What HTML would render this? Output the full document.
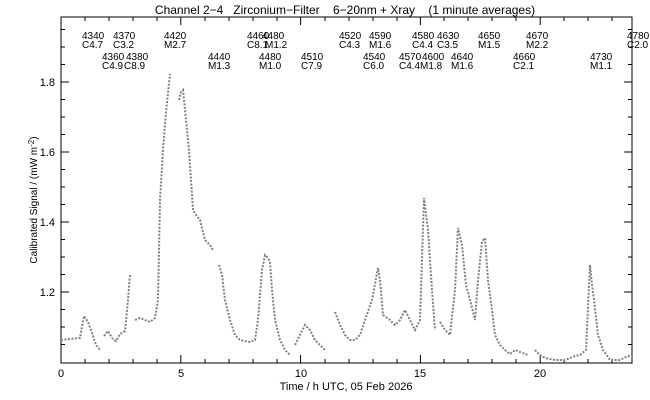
<!DOCTYPE html>
<html><head><style>
body{margin:0;background:#fff;}
svg{display:block;}
text{font-family:"Liberation Sans",sans-serif;fill:#000;white-space:pre;}
</style></head><body>
<svg width="650" height="400" viewBox="0 0 650 400" xmlns="http://www.w3.org/2000/svg">
<rect width="650" height="400" fill="#fff"/>
<text x="345" y="14" font-size="12" text-anchor="middle" xml:space="preserve">Channel 2−4   Zirconium−Filter    6−20nm + Xray    (1 minute averages)</text>
<g font-size="10">
<text x="82" y="39">4340</text><text x="82" y="48">C4.7</text>
<text x="113" y="39">4370</text><text x="113" y="48">C3.2</text>
<text x="164" y="39">4420</text><text x="164" y="48">M2.7</text>
<text x="247" y="39">4460</text><text x="262" y="39">4480</text><text x="247" y="48">C8.1</text><text x="265" y="48">M1.2</text>
<text x="339" y="39">4520</text><text x="339" y="48">C4.3</text>
<text x="369" y="39">4590</text><text x="369" y="48">M1.6</text>
<text x="412" y="39">4580</text><text x="437" y="39">4630</text><text x="412" y="48">C4.4</text><text x="437" y="48">C3.5</text>
<text x="478" y="39">4650</text><text x="478" y="48">M1.5</text>
<text x="526" y="39">4670</text><text x="526" y="48">M2.2</text>
<text x="627" y="39">4780</text><text x="627" y="48">C2.0</text>
<text x="102" y="60">4360</text><text x="126" y="60">4380</text><text x="102" y="69">C4.9</text><text x="124" y="69">C8.9</text>
<text x="208" y="60">4440</text><text x="208" y="69">M1.3</text>
<text x="259" y="60">4480</text><text x="259" y="69">M1.0</text>
<text x="301" y="60">4510</text><text x="301" y="69">C7.9</text>
<text x="363" y="60">4540</text><text x="363" y="69">C6.0</text>
<text x="399" y="60">4570</text><text x="422" y="60">4600</text><text x="451" y="60">4640</text>
<text x="399" y="69">C4.4</text><text x="420" y="69">M1.8</text><text x="451" y="69">M1.6</text>
<text x="513" y="60">4660</text><text x="513" y="69">C2.1</text>
<text x="590" y="60">4730</text><text x="590" y="69">M1.1</text>
</g>
<rect x="61" y="17" width="571" height="346" fill="none" stroke="#000" stroke-width="1"/>
<g stroke="#000" stroke-width="1">
<path d="M61 363v-8M180.8 363v-8M300.6 363v-8M420.4 363v-8M540.2 363v-8M61 17v8M180.8 17v8M300.6 17v8M420.4 17v8M540.2 17v8"/>
<path d="M85 363v-4M109 363v-4M133 363v-4M157 363v-4M205 363v-4M229 363v-4M253 363v-4M277 363v-4M325 363v-4M349 363v-4M373 363v-4M397 363v-4M444 363v-4M468 363v-4M492 363v-4M516 363v-4M564 363v-4M588 363v-4M612 363v-4"/>
<path d="M85 17v4M109 17v4M133 17v4M157 17v4M205 17v4M229 17v4M253 17v4M277 17v4M325 17v4M349 17v4M373 17v4M397 17v4M444 17v4M468 17v4M492 17v4M516 17v4M564 17v4M588 17v4M612 17v4"/>
<path d="M61 82h8M61 152h8M61 222h8M61 292h8M632 82h-8M632 152h-8M632 222h-8M632 292h-8"/>
<path d="M61 29.5h4M61 47h4M61 64.5h4M61 99.5h4M61 117h4M61 134.5h4M61 169.5h4M61 187h4M61 204.5h4M61 239.5h4M61 257h4M61 274.5h4M61 309.5h4M61 327h4M61 344.5h4M632 29.5h-4M632 47h-4M632 64.5h-4M632 99.5h-4M632 117h-4M632 134.5h-4M632 169.5h-4M632 187h-4M632 204.5h-4M632 239.5h-4M632 257h-4M632 274.5h-4M632 309.5h-4M632 327h-4M632 344.5h-4"/>
</g>
<g font-size="11" text-anchor="end">
<text x="55" y="86">1.8</text><text x="55" y="156">1.6</text><text x="55" y="226">1.4</text><text x="55" y="296">1.2</text>
</g>
<g font-size="11" text-anchor="middle">
<text x="61" y="377">0</text><text x="181" y="377">5</text><text x="301" y="377">10</text><text x="420" y="377">15</text><text x="540" y="377">20</text>
<text x="346" y="390">Time / h UTC, 05 Feb 2026</text>
</g>
<text transform="translate(37,200) rotate(-90)" font-size="10" text-anchor="middle">Calibrated Signal / (mW m<tspan dy="-3" font-size="8">-2</tspan><tspan dy="3">)</tspan></text>
<g fill="none" stroke="#808080" stroke-width="2" stroke-dasharray="2 1.5">
<polyline points="61,340 70,339 80,338 84,316 88,322 92,333 96,345 100,350"/>
<polyline points="104,336 108,331 112,338 116,341 120,334 125,331 128,300 130,275"/>
<polyline points="135,320 140,318 145,320 150,322 155,318 158,300 160,200 163,150 166,112 170,74"/>
<polyline points="179,100 181,92 183,90 185,110 189,150 193,210 196,215 200,220 205,240 210,245 213,250"/>
<polyline points="219,265 222,275 225,300 230,320 235,335 240,340 250,342 255,340 258,320 262,270 265,255 268,258 270,262 272,290 275,320 280,340 285,350 290,355"/>
<polyline points="295,345 300,335 305,325 310,330 315,340 320,345 325,350"/>
<polyline points="335,312 340,325 345,335 350,340 355,340 360,335 365,320 372,300 378,268 380,280 383,315 390,320 395,325 400,320 405,310 410,320 415,330 420,320 424,198 428,230 432,290 435,330"/>
<polyline points="440,322 445,330 450,335 455,290 458,228 462,245 466,285 470,300 475,320 478,280 482,242 485,238 488,280 492,310 495,335 500,345 505,350 510,354 515,350 520,352 528,355"/>
<polyline points="535,350 540,355 545,358 555,360 565,360 575,356 580,355 586,350 590,265 592,285 594,300 598,335 603,350 610,360 620,360 626,357 632,355"/>
</g>
</svg>
</body></html>
